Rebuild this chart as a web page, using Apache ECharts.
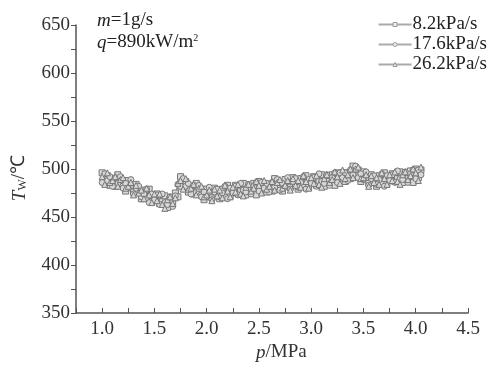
<!DOCTYPE html>
<html><head><meta charset="utf-8">
<script src="https://cdn.jsdelivr.net/npm/echarts@6/dist/echarts.min.js"></script>
<style>html,body{margin:0;padding:0;background:#fff}#c{width:493px;height:365px}</style>
</head><body><div id="c"></div>
<script>
var pressure = [1.000,1.025,1.050,1.075,1.100,1.125,1.150,1.175,1.200,1.225,1.250,1.275,1.300,1.325,1.350,1.375,1.400,1.425,1.450,1.475,1.500,1.525,1.550,1.575,1.600,1.625,1.650,1.675,1.700,1.725,1.750,1.775,1.800,1.825,1.850,1.875,1.900,1.925,1.950,1.975,2.000,2.025,2.050,2.075,2.100,2.125,2.150,2.175,2.200,2.225,2.250,2.275,2.300,2.325,2.350,2.375,2.400,2.425,2.450,2.475,2.500,2.525,2.550,2.575,2.600,2.625,2.650,2.675,2.700,2.725,2.750,2.775,2.800,2.825,2.850,2.875,2.900,2.925,2.950,2.975,3.000,3.025,3.050,3.075,3.100,3.125,3.150,3.175,3.200,3.225,3.250,3.275,3.300,3.325,3.350,3.375,3.400,3.425,3.450,3.475,3.500,3.525,3.550,3.575,3.600,3.625,3.650,3.675,3.700,3.725,3.750,3.775,3.800,3.825,3.850,3.875,3.900,3.925,3.950,3.975,4.000,4.025,4.050];
var tw82 = [496,487,493,483,490,482,494,484,488,477,488,482,476,484,476,469,478,470,479,466,471,474,464,466,472,460,469,465,475,471,492,482,487,476,482,474,485,475,479,468,479,474,470,480,473,469,479,473,483,472,478,483,474,477,485,473,482,478,485,473,487,478,485,476,484,477,490,481,486,477,489,484,481,491,484,479,490,483,493,481,488,492,483,487,494,482,492,487,494,483,496,488,496,487,496,490,503,495,499,487,497,490,485,494,487,482,493,486,496,485,491,495,487,490,497,486,495,490,498,486,500,491,499];
var tw176 = [486,495,488,492,482,491,485,492,480,485,480,489,474,480,482,471,474,479,465,474,468,473,463,474,465,463,471,461,472,484,482,490,482,485,474,483,476,483,471,476,471,481,468,476,479,471,475,482,469,480,475,482,473,485,478,476,484,474,482,486,477,486,480,485,476,486,481,489,478,485,481,491,479,487,490,481,486,492,479,489,485,491,482,495,487,485,494,483,491,496,486,496,491,496,488,499,494,503,491,495,489,497,483,490,493,484,489,495,482,493,488,494,486,498,490,489,497,486,495,499,490,499,494];
var tw262 = [492,484,496,486,488,492,482,489,491,480,482,486,473,483,475,478,469,480,473,465,474,467,474,463,459,468,471,464,470,485,488,479,490,479,480,484,473,480,482,471,473,478,467,479,472,478,470,483,477,471,481,476,484,474,472,481,484,477,480,487,483,475,488,479,482,487,478,486,489,480,483,488,478,490,483,488,481,493,487,480,491,485,493,484,481,490,494,486,489,497,492,485,499,490,494,500,491,500,502,490,491,494,482,493,486,491,484,496,490,484,494,488,497,487,484,494,497,489,493,500,496,488,502];
var seriesNames = ['8.2kPa/s','17.6kPa/s','26.2kPa/s'];
var xTicks = [1.0,1.5,2.0,2.5,3.0,3.5,4.0,4.5];
var yTicks = [350,400,450,500,550,600,650];

function pairs(v){ return pressure.map(function(p,i){ return [p, v[i]]; }); }
var serif = 'Liberation Serif, Times New Roman, serif';
var symbols = ['rect','circle','triangle'];
var chart = echarts.init(document.getElementById('c'));
var seriesData = [tw82, tw176, tw262];
chart.setOption({
  animation:false,
  backgroundColor:'#fff',
  grid:{left:76,right:25,top:25,bottom:52},
  legend:{
    orient:'vertical', right:1, top:10, itemGap:1, itemWidth:33, itemHeight:5,
    textStyle:{fontFamily:serif,fontSize:19,color:'#222',padding:[0,0,0,-4]},
    lineStyle:{color:'#aaa'},
    itemStyle:{color:'#eee',borderColor:'#999',borderWidth:1},
    data:seriesNames
  },
  xAxis:{
    type:'value', min:0.75, max:4.5, interval:0.25,
    axisLine:{lineStyle:{color:'#555',width:1.5}},
    axisTick:{inside:true,length:5,lineStyle:{color:'#555'}},
    splitLine:{show:false},
    axisLabel:{fontFamily:serif,fontSize:19,color:'#333',margin:7,
      formatter:function(v){ for(var i=0;i<xTicks.length;i++){ if(Math.abs(xTicks[i]-v)<1e-6) return v.toFixed(1);} return ''; }}
  },
  yAxis:{
    type:'value', min:350, max:650, interval:25,
    axisLine:{show:true,lineStyle:{color:'#555',width:1.5}},
    axisTick:{show:true,length:5,lineStyle:{color:'#555'}},
    splitLine:{show:false},
    axisLabel:{fontFamily:serif,fontSize:19,color:'#333',margin:6,
      formatter:function(v){ return yTicks.indexOf(v)>=0 ? String(v) : ''; }}
  },
  graphic:[
    {type:'text',left:97,top:11,style:{text:'{i|m}=1g/s',fontFamily:serif,fontSize:19,fill:'#222',
      rich:{i:{fontStyle:'italic',fontFamily:serif,fontSize:19,fill:'#222'}}}},
    {type:'text',left:97,top:33,style:{text:'{i|q}=890kW/m{s|2}',fontFamily:serif,fontSize:19,fill:'#222',
      rich:{i:{fontStyle:'italic',fontFamily:serif,fontSize:19,fill:'#222'},s:{fontSize:10,fontFamily:serif,fill:'#222',verticalAlign:'top',padding:[0,0,8,0]}}}},
    {type:'text',left:256,top:343,style:{text:'{i|p}/MPa',fontFamily:serif,fontSize:19,fill:'#333',
      rich:{i:{fontStyle:'italic',fontFamily:serif,fontSize:19,fill:'#333'}}}},
    {type:'text',left:10,top:155,rotation:Math.PI/2,style:{text:'{i|T}{s|W}/℃',fontFamily:serif,fontSize:19,fill:'#333',
      rich:{i:{fontStyle:'italic',fontFamily:serif,fontSize:19,fill:'#333'},s:{fontSize:12,fontFamily:serif,fill:'#333',padding:[6,0,0,0]}}}}
  ],
  series: seriesNames.map(function(n,k){
    return {
      name:n, type:'line', data:pairs(seriesData[k]),
      symbol:symbols[k], symbolSize:6, showSymbol:true,
      lineStyle:{color:'#808080',width:1},
      itemStyle:{color:'#d8d8d8',borderColor:'#777',borderWidth:1}
    };
  })
});
</script></body></html>
